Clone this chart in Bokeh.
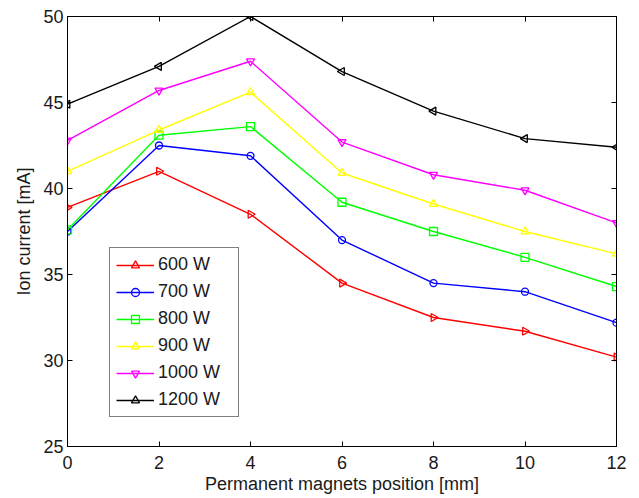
import math
from bokeh.plotting import figure
from bokeh.models import Range1d, LinearAxis, FixedTicker, CustomJSTickFormatter
from bokeh.embed import file_html
from bokeh.resources import INLINE

positions = [0, 2, 4, 6, 8, 10, 12]
p600 = [38.9, 41.0, 38.5, 34.5, 32.5, 31.7, 30.2]
p700 = [37.5, 42.5, 41.9, 37.0, 34.5, 34.0, 32.2]
p800 = [37.6, 43.1, 43.6, 39.2, 37.5, 36.0, 34.3]
p900 = [41.0, 43.4, 45.6, 40.9, 39.1, 37.5, 36.2]
p1000 = [42.8, 45.7, 47.4, 42.7, 40.8, 39.9, 38.0]
p1200 = [44.9, 47.1, 50.0, 46.8, 44.5, 42.9, 42.4]

labels = ["600 W", "700 W", "800 W", "900 W", "1000 W", "1200 W"]
series = [p600, p700, p800, p900, p1000, p1200]
colors = ["#ff0000", "#0000ff", "#00ff00", "#ffff00", "#ff00ff", "#000000"]
markers = ["triangle", "circle", "square", "triangle", "inverted_triangle", "triangle"]
angles = [-math.pi / 2, 0, 0, 0, 0, math.pi / 2]
sizes = [8, 7, 8, 8, 8, 8]

x_ticks = [0, 2, 4, 6, 8, 10, 12]
y_ticks = [25, 30, 35, 40, 45, 50]

FONT = "Liberation Sans"

p = figure(width=634, height=496, output_backend="svg", toolbar_location=None,
           x_range=Range1d(0, 12), y_range=Range1d(25, 50),
           min_border_left=67, min_border_top=16, min_border_right=18, min_border_bottom=50)
p.background_fill_color = "white"
p.border_fill_color = "white"
p.outline_line_color = "black"
p.outline_line_width = 1
p.xgrid.visible = False
p.ygrid.visible = False

for lab, ys, c, m, a, s in zip(labels, series, colors, markers, angles, sizes):
    p.line(positions, ys, line_color=c, line_width=1.4, legend_label=lab)
    p.scatter(positions, ys, marker=m, angle=a, size=s, line_color=c,
              fill_color=None, line_width=1.3, legend_label=lab)

def style_axis(ax, ticks, show_labels=True):
    ax.ticker = FixedTicker(ticks=ticks)
    ax.axis_line_color = "black"
    ax.axis_line_width = 1
    ax.major_tick_in = 5
    ax.major_tick_out = 0
    ax.major_tick_line_color = "black"
    ax.minor_tick_line_color = None
    ax.major_label_text_font = FONT
    ax.major_label_text_color = "#1a1a1a"
    ax.major_label_text_font_size = "18px"
    if not show_labels:
        ax.formatter = CustomJSTickFormatter(code="return ''")
        ax.major_label_standoff = 0

xa = p.xaxis[0]
ya = p.yaxis[0]
style_axis(xa, x_ticks)
style_axis(ya, y_ticks)
xa.major_label_standoff = 9
ya.major_label_standoff = 4
xa.axis_label = "Permanent magnets position [mm]"
ya.axis_label = "Ion current [mA]"
for ax in (xa, ya):
    ax.axis_label_text_font = FONT
    ax.axis_label_text_font_size = "18px"
    ax.axis_label_text_font_style = "normal"
    ax.axis_label_text_color = "#1a1a1a"
xa.axis_label_standoff = 2
ya.axis_label_standoff = 6

top = LinearAxis()
style_axis(top, x_ticks, show_labels=False)
p.add_layout(top, "above")
right = LinearAxis()
style_axis(right, y_ticks, show_labels=False)
p.add_layout(right, "right")

lg = p.legend[0]
lg.location = (42, 29)
lg.border_line_color = "black"
lg.border_line_width = 1
lg.background_fill_color = "white"
lg.background_fill_alpha = 1
lg.label_text_font = FONT
lg.label_text_font_size = "18px"
lg.label_text_color = "#1a1a1a"
lg.glyph_width = 38
lg.glyph_height = 20
lg.label_height = 21
lg.label_width = 74
lg.spacing = 6
lg.padding = 6
lg.margin = 0
lg.label_standoff = 4

open("out.html", "w").write(file_html(p, INLINE))
